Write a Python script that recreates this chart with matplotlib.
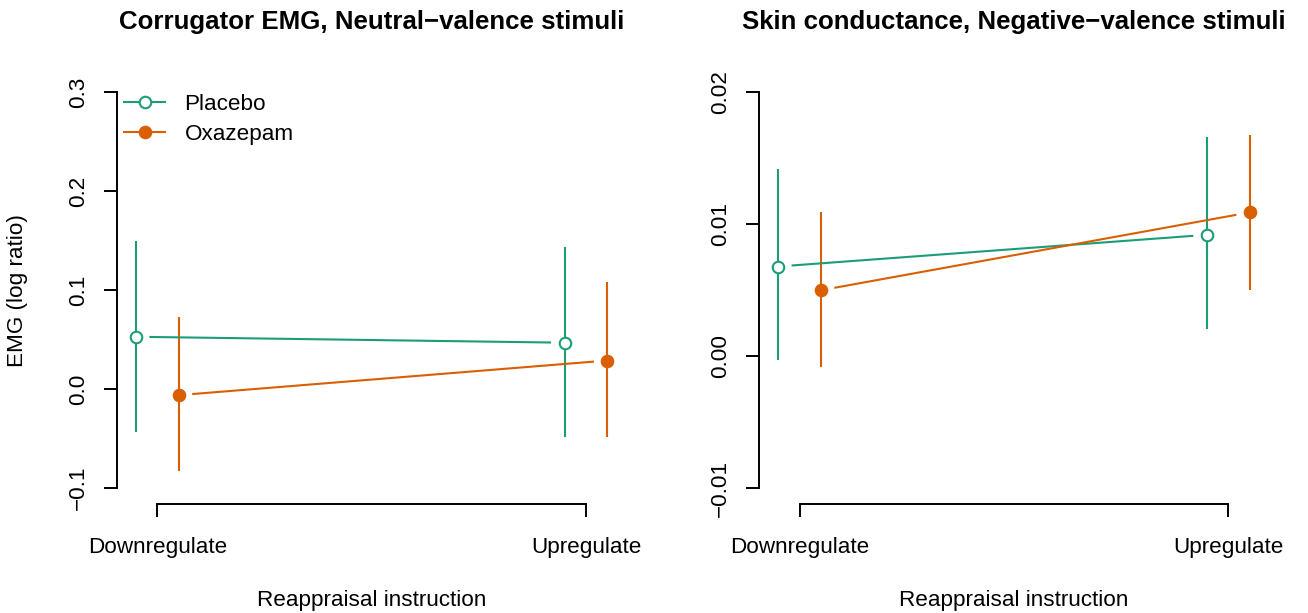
import matplotlib
matplotlib.use("Agg")
import matplotlib.pyplot as plt
import numpy as np
from matplotlib.lines import Line2D

plt.rcParams['font.family'] = ['Liberation Sans', 'DejaVu Sans']

# ---------------- data ----------------
conditions = ["Downregulate", "Upregulate"]
groups = ["Placebo", "Oxazepam"]

# Left panel: Corrugator EMG, neutral-valence stimuli
emg_placebo_mean = [0.053, 0.047]
emg_placebo_lo = [-0.043, -0.048]
emg_placebo_hi = [0.150, 0.144]
emg_oxa_mean = [-0.006, 0.029]
emg_oxa_lo = [-0.083, -0.048]
emg_oxa_hi = [0.073, 0.108]
emg_yticks = [-0.1, 0.0, 0.1, 0.2, 0.3]
emg_yticklabels = ["\u22120.1", "0.0", "0.1", "0.2", "0.3"]

# Right panel: Skin conductance, negative-valence stimuli
scr_placebo_mean = [0.0068, 0.0092]
scr_placebo_lo = [-0.0003, 0.0021]
scr_placebo_hi = [0.0142, 0.0166]
scr_oxa_mean = [0.0050, 0.0109]
scr_oxa_lo = [-0.0008, 0.0050]
scr_oxa_hi = [0.0109, 0.0168]
scr_yticks = [-0.01, 0.00, 0.01, 0.02]
scr_yticklabels = ["\u22120.01", "0.00", "0.01", "0.02"]

titles = ["Corrugator EMG, Neutral\u2212valence stimuli",
          "Skin conductance, Negative\u2212valence stimuli"]
xlabel = "Reappraisal instruction"
ylabel_left = "EMG (log ratio)"

GREEN = "#1B9E77"
ORANGE = "#D95F02"

FS = 16.2
W, H = 1308, 613
fig = plt.figure(figsize=(W / 100, H / 100), dpi=100)


def px_axes(x0, x1, ytop, ybot):
    return fig.add_axes([x0 / W, 1 - ybot / H, (x1 - x0) / W, (ybot - ytop) / H])


ax1 = px_axes(117, 626.3, 76.5, 504)
ax2 = px_axes(759.3, 1268.5, 76.5, 504)

xpos = np.arange(1, len(conditions) + 1)
offset = 0.05
GAP = 13.5  # pixels gap between point and connecting line
MS = 8.3
LW = 1.5


def gapped_line(ax, xs, ys, color):
    pts = ax.transData.transform(np.column_stack([xs, ys]))
    p0, p1 = pts[0], pts[1]
    d = p1 - p0
    u = d / np.hypot(*d)
    seg = ax.transData.inverted().transform(np.vstack([p0 + u * GAP, p1 - u * GAP]))
    ax.plot(seg[:, 0], seg[:, 1], color=color, lw=LW, solid_capstyle='butt')


def panel(ax, pm, plo, phi, om, olo, ohi, yticks, yticklabels, ylim, title):
    ax.set_xlim(0.95 - 0.044, 2.05 + 0.044)
    rng = ylim[1] - ylim[0]
    ax.set_ylim(ylim[0] - 0.04 * rng, ylim[1] + 0.04 * rng)
    xp = xpos - offset
    xo = xpos + offset
    ax.vlines(xp, plo, phi, color=GREEN, lw=LW)
    ax.vlines(xo, olo, ohi, color=ORANGE, lw=LW)
    gapped_line(ax, xp, pm, GREEN)
    gapped_line(ax, xo, om, ORANGE)
    ax.plot(xp, pm, linestyle='none', marker='o', ms=MS, mfc='white',
            mec=GREEN, mew=LW, zorder=5)
    ax.plot(xo, om, linestyle='none', marker='o', ms=MS, mfc=ORANGE,
            mec=ORANGE, mew=LW, zorder=5)
    for s in ['top', 'right']:
        ax.spines[s].set_visible(False)
    ax.spines['left'].set_bounds(yticks[0], yticks[-1])
    ax.spines['bottom'].set_bounds(xpos[0], xpos[-1])
    for s in ['left', 'bottom']:
        ax.spines[s].set_linewidth(1.4)
    ax.set_yticks(yticks)
    ax.set_yticklabels(yticklabels, rotation=90, va='center')
    ax.set_xticks(xpos)
    ax.set_xticklabels(conditions)
    ax.tick_params(axis='both', direction='out', length=9.6, width=1.4,
                   labelsize=FS, colors='black')
    ax.tick_params(axis='y', pad=10.5)
    ax.tick_params(axis='x', pad=14)
    ax.set_title(title, fontsize=18.6, fontweight='bold', pad=34)
    ax.set_xlabel(xlabel, fontsize=FS)
    ax.xaxis.set_label_coords(0.5, -(600.5 - 504) / 427.5)
    ax.xaxis.label.set_va('center')
    ax.patch.set_visible(False)


panel(ax1, emg_placebo_mean, emg_placebo_lo, emg_placebo_hi,
      emg_oxa_mean, emg_oxa_lo, emg_oxa_hi, emg_yticks, emg_yticklabels,
      (-0.1, 0.3), titles[0])
panel(ax2, scr_placebo_mean, scr_placebo_lo, scr_placebo_hi,
      scr_oxa_mean, scr_oxa_lo, scr_oxa_hi, scr_yticks, scr_yticklabels,
      (-0.01, 0.02), titles[1])

ax1.set_ylabel(ylabel_left, fontsize=FS)
ax1.yaxis.set_label_coords(-(117 - 18) / 509.3, 0.5)
ax1.yaxis.label.set_va('center')

handles = [
    Line2D([], [], color=GREEN, lw=LW, marker='o', ms=MS, mfc='white', mec=GREEN, mew=LW),
    Line2D([], [], color=ORANGE, lw=LW, marker='o', ms=MS, mfc=ORANGE, mec=ORANGE, mew=LW),
]
ax1.legend(handles, groups, loc='upper left', frameon=False, fontsize=FS,
           bbox_to_anchor=(0.0, 0.975), handlelength=1.85, handletextpad=0.85,
           labelspacing=0.4, borderaxespad=0.0, borderpad=0.3)

fig.savefig("out.png", dpi=100)
